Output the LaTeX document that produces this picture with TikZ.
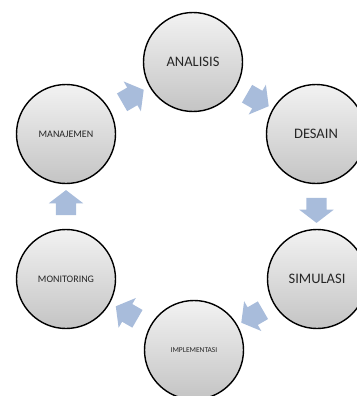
\documentclass[tikz,border=0pt]{standalone}
\usepackage{fontspec}
\setmainfont{Carlito}
\usetikzlibrary{shapes.arrows,calc}
\definecolor{arrowblue}{RGB}{168,188,219}
\definecolor{circtop}{RGB}{242,242,242}
\definecolor{circbot}{RGB}{196,196,196}
\begin{document}
\begin{tikzpicture}[x=1pt, y=-1pt,
        phase/.style={circle, draw=black, line width=1.4pt, minimum size=99pt, inner sep=0pt,
            top color=circtop, bottom color=circbot, text=black!85, align=center},
        big/.style={phase, font=\fontsize{14.5}{16}\selectfont},
        mid/.style={phase, font=\fontsize{10}{12}\selectfont},
        tiny/.style={phase, font=\fontsize{7.5}{9}\selectfont},
        flow/.style={single arrow, draw=none, fill=arrowblue, inner xsep=1pt, inner ysep=10pt,
            minimum height=25pt, single arrow head extend=7pt, single arrow tip angle=105}
    ]
        \useasboundingbox (0,0) rectangle (356,396);

        % Phases
        \node[big] (analisis) at (193,62) {ANALISIS};
        \node[big] (desain) at (316,134) {DESAIN};
        \node[big] (simulasi) at (317,279) {SIMULASI};
        \node[tiny] (implementasi) at (194,350) {IMPLEMENTASI};
        \node[mid] (monitoring) at (66,279) {MONITORING};
        \node[mid] (manajemen) at (66,134) {MANAJEMEN};

        % Arrows between phases
        \node[flow, rotate=30] (a1) at ($(manajemen)!0.5!(analisis)$) {};
        \node[flow, rotate=-30] (a2) at ($(analisis)!0.5!(desain)$) {};
        \node[flow, rotate=-90] (a3) at ($(desain)!0.5!(simulasi)$) {};
        \node[flow, rotate=-150] (a4) at ($(simulasi)!0.5!(implementasi)$) {};
        \node[flow, rotate=150] (a5) at ($(implementasi)!0.5!(monitoring)$) {};
        \node[flow, rotate=90] (a6) at ($(monitoring)!0.5!(manajemen)$) {};
    \end{tikzpicture}
\end{document}
